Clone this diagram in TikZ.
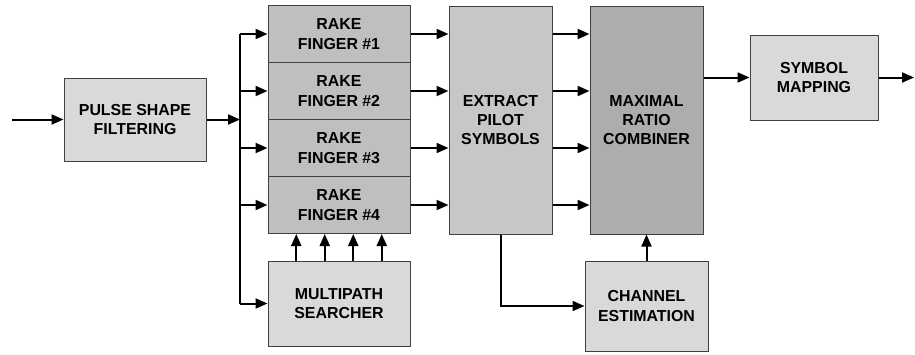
\documentclass[tikz,border=0pt]{standalone}
\usepackage{fontspec}
\setmainfont{Liberation Sans}
\usepackage{tikz}
\usetikzlibrary{arrows.meta,calc}

\begin{document}
\begin{tikzpicture}[x=0.5pt, y=-0.5pt,
    every node/.style={font=\bfseries\fontsize{7.95}{9.65}\selectfont, align=center, inner sep=0pt},
    block/.style={rectangle, draw=black!75, line width=0.5pt, fill=black!15},
    finger/.style={block, fill=black!25, minimum width=71pt, minimum height=28.5pt},
    arr/.style={line width=1pt, -{Triangle[length=6pt, width=5pt]}}]
      % Variables
      \def \fingx  {339}
      \def \busx   {240}

      \useasboundingbox (0,0) rectangle (915,354);

      % Blocks
      \node[block, minimum width=71pt, minimum height=41.5pt] (pulse) at (135,119.5) {PULSE SHAPE\\FILTERING};
      \foreach \i in {1,...,4}
        \node[finger] (f\i) at (\fingx, {34+57*(\i-1)}) {RAKE\\FINGER \#\i};
      \node[block, minimum width=71pt, minimum height=42.5pt] (search) at (\fingx,303.5) {MULTIPATH\\SEARCHER};
      \node[block, fill=black!22, minimum width=51.5pt, minimum height=114pt] (extract) at (500.5,120) {EXTRACT\\PILOT\\SYMBOLS};
      \node[block, fill=black!32, minimum width=56.5pt, minimum height=114pt] (mrc) at (646.5,120) {MAXIMAL\\RATIO\\COMBINER};
      \node[block, minimum width=61.5pt, minimum height=45pt] (chan) at (646.5,306) {CHANNEL\\ESTIMATION};
      \node[block, minimum width=64pt, minimum height=42.5pt] (sym) at (814,77.5) {SYMBOL\\MAPPING};

      % Free ends
      \coordinate (in) at (12,119.5);
      \coordinate (bus) at (\busx,119.5);
      \coordinate (out) at (914,77.5);

      % Arrows
      \draw[arr] (in) -- (pulse.west);
      \draw[arr] (pulse.east) -- (bus);
      \draw[line width=1pt] (bus |- f1) -- (bus |- search);
      \foreach \i in {1,...,4} {
        \draw[arr] (bus |- f\i) -- (f\i.west);
        \draw[arr] (f\i.east) -- (extract.west |- f\i);
        \draw[arr] (extract.east |- f\i) -- (mrc.west |- f\i);
      }
      \draw[arr] (bus |- search) -- (search.west);
      \foreach \dx in {-42.75,-14.25,14.25,42.75}
        \draw[arr] ($(search.north)+(\dx,0)$) -- ($(f4.south)+(\dx,0)$);
      \draw[arr] (extract.south) |- (chan.west);
      \draw[arr] (chan.north) -- (mrc.south);
      \draw[arr] (mrc.east |- sym.west) -- (sym.west);
      \draw[arr] (sym.east) -- (out);

    \end{tikzpicture}
\end{document}
